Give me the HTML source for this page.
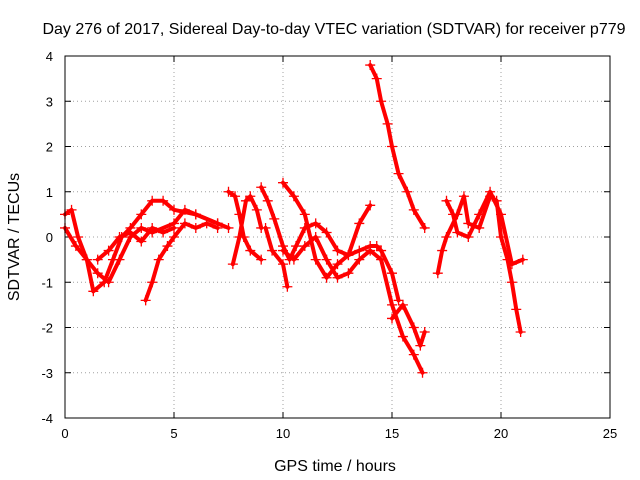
<!DOCTYPE html>
<html><head><meta charset="utf-8"><style>
body{margin:0;background:#fff}
svg{display:block;font-family:"Liberation Sans",sans-serif}
</style></head><body>
<svg id="chart" width="640" height="480">
<text x="334" y="34" font-size="16" text-anchor="middle">Day 276 of 2017, Sidereal Day-to-day VTEC variation (SDTVAR) for receiver p779</text>
<text x="335" y="471" font-size="16" text-anchor="middle">GPS time / hours</text>
<text transform="translate(19,237) rotate(-90)" font-size="16" text-anchor="middle">SDTVAR / TECUs</text>
<g id="grid"></g><g id="ticks"></g><g id="marks"></g>
<rect x="65" y="56" width="545" height="362" fill="none" stroke="#000"/>
</svg>
<script>
const xTicks=[0,5,10,15,20,25];
const yTicks=[-4,-3,-2,-1,0,1,2,3,4];
const arcA=[[0,0.5],[0.3,0.6],[0.6,0],[1,-0.5],[1.3,-1.2],[1.8,-1],[2.2,-0.5],[2.6,0],[3,0.2],[3.5,0.5],[4,0.8],[4.5,0.8],[5,0.6],[6,0.5],[7,0.3]];
const arcB=[[0,0.2],[0.5,-0.2],[1,-0.5],[1.5,-0.8],[2,-1],[2.5,-0.5],[3,0],[3.5,0.2],[4,0.1],[5,0.3],[5.5,0.6],[6,0.5],[7,0.3],[7.5,0.2]];
const arcC=[[1.5,-0.5],[2,-0.3],[2.5,0],[3,0.1],[3.5,-0.1],[4,0.2],[4.5,0.1],[5,0.2]];
const arcD=[[3.7,-1.4],[4,-1],[4.3,-0.5],[4.7,-0.2],[5,0],[5.5,0.3],[6,0.2],[6.5,0.3],[7,0.2]];
const arcE=[[7.5,1.0],[7.8,0.9],[8,0.5],[8.2,0],[8.5,-0.3],[9,-0.5]];
const arcF=[[7.7,-0.6],[8,0],[8.3,0.8],[8.5,0.9],[8.8,0.6],[9,0.2]];
const arcG=[[9,1.1],[9.3,0.8],[9.6,0.4],[10,-0.2],[10.3,-0.5],[10.6,-0.2],[11,0.2],[11.5,0.3],[12,0.1],[12.5,-0.3],[13,-0.4],[13.5,-0.3],[14,-0.2],[14.3,-0.2],[14.5,-0.3],[15,-0.8],[15.3,-1.4]];
const arcH=[[10,1.2],[10.5,0.9],[11,0.5],[11.5,-0.5],[12,-0.9],[12.5,-0.6],[13,-0.4],[13.5,0.3],[14,0.7]];
const arcI=[[9.2,0.2],[9.5,-0.3],[10,-0.6],[10.2,-1.1]];
const arcJ=[[10,-0.3],[10.5,-0.5],[11,-0.2],[11.5,0],[12,-0.5],[12.5,-0.9],[13,-0.8],[13.5,-0.5],[14,-0.3],[14.5,-0.5],[15,-1.5],[15.5,-2.2],[16,-2.6],[16.4,-3.0]];
const arcK=[[14,3.8],[14.3,3.5],[14.5,3.0],[14.8,2.5],[15,2.0],[15.3,1.4],[15.7,1.0],[16,0.6],[16.5,0.2]];
const arcL=[[15,-1.8],[15.5,-1.5],[16,-2.0],[16.3,-2.4],[16.5,-2.1]];
const arcM=[[17.1,-0.8],[17.3,-0.3],[17.5,0],[18,0.5],[18.3,0.9],[18.5,0.3],[19,0.2],[19.5,0.9],[19.8,0.8],[20,0],[20.3,-0.5],[20.5,-1],[20.7,-1.6],[20.9,-2.1]];
const arcN=[[17.5,0.8],[17.8,0.5],[18,0.1],[18.5,0.0],[19,0.5],[19.5,1.0],[20,0.5],[20.5,-0.6],[21,-0.5]];
const arcs=[arcA,arcB,arcC,arcD,arcE,arcF,arcG,arcH,arcI,arcJ,arcK,arcL,arcM,arcN];
const NS="http://www.w3.org/2000/svg";
const X=v=>65+v*545/25, Y=v=>237-v*362/8;
const grid=document.getElementById('grid'),ticks=document.getElementById('ticks'),marks=document.getElementById('marks');
function mk(t,a,p){const e=document.createElementNS(NS,t);for(const k in a)e.setAttribute(k,a[k]);p.appendChild(e);return e;}
xTicks.forEach(t=>{const x=X(t);
 if(t>0&&t<25){const g=mk('line',{x1:x,x2:x,y1:56,y2:418,stroke:'#a0a0a0','stroke-dasharray':'1,3'},grid);
 
 }
 mk('line',{x1:x,x2:x,y1:418,y2:412,stroke:'#000'},ticks);mk('line',{x1:x,x2:x,y1:56,y2:62,stroke:'#000'},ticks);
 const l=mk('text',{x:x,y:438,'font-size':13,'text-anchor':'middle'},ticks);l.textContent=t;
 
 });
yTicks.forEach(t=>{const y=Y(t);
 if(t>-4&&t<4){const g=mk('line',{x1:65,x2:610,y1:y,y2:y,stroke:'#a0a0a0','stroke-dasharray':'1,3'},grid);
 
 }
 mk('line',{x1:65,x2:71,y1:y,y2:y,stroke:'#000'},ticks);mk('line',{x1:610,x2:604,y1:y,y2:y,stroke:'#000'},ticks);
 const l=mk('text',{x:53,y:y+5,'font-size':13,'text-anchor':'end'},ticks);l.textContent=t;
 
 });
arcs.forEach(arc=>{
 const g=mk('g',{},marks);
 
 
 mk('polyline',{points:arc.map(p=>X(p[0])+','+Y(p[1])).join(' '),fill:'none',stroke:'#f00','stroke-width':4,'stroke-linejoin':'round','stroke-linecap':'round'},g);
 arc.forEach(p=>{const x=X(p[0]),y=Y(p[1]);
  mk('path',{d:`M${x-5},${y}h10M${x},${y-5}v10`,stroke:'#f00','stroke-width':1.3},g);});
});
</script>
</body></html>
